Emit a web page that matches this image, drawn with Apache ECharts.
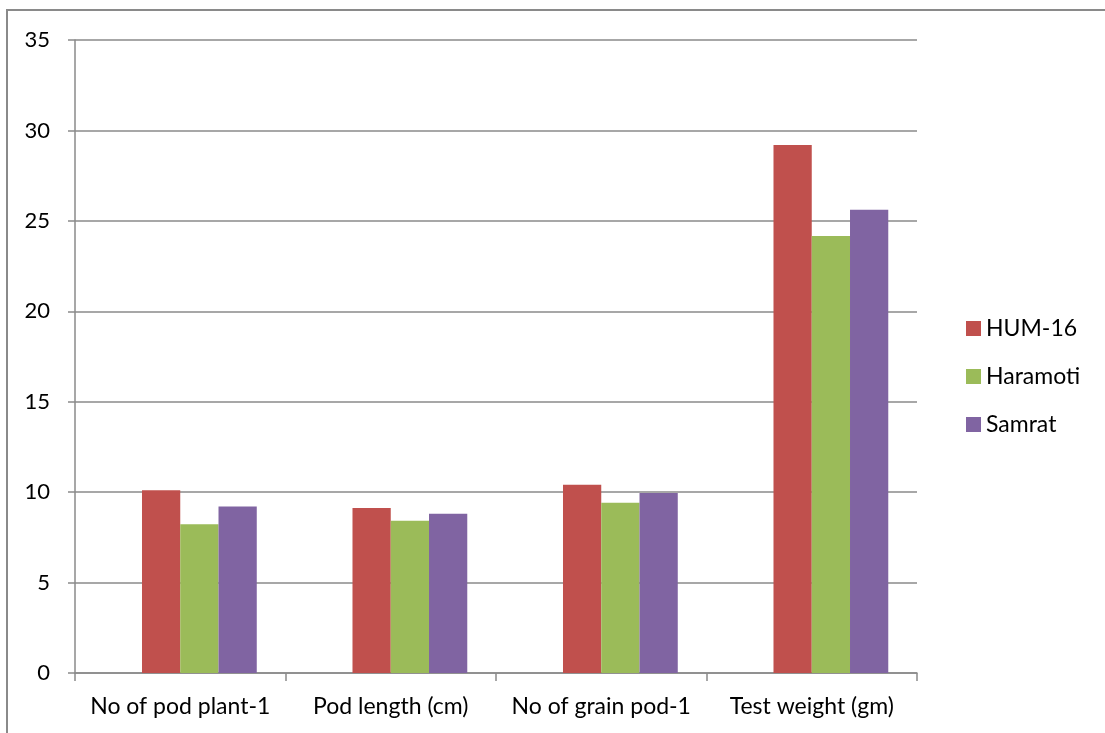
<!DOCTYPE html>
<html>
<head>
<meta charset="utf-8">
<script src="https://cdn.jsdelivr.net/npm/echarts@6/dist/echarts.min.js"></script>
<style>
  html, body { margin: 0; padding: 0; background: #fff; }
  #chart { width: 1105px; height: 733px; }
</style>
</head>
<body>
<div id="chart"></div>
<script>
// Yield attributes of three varieties
const categories = ['No of pod plant-1', 'Pod length (cm)', 'No of grain pod-1', 'Test weight (gm)'];
const hum16    = [10.1, 9.12, 10.41, 29.2];
const haramoti = [8.22, 8.42, 9.42, 24.16];
const samrat   = [9.2, 8.81, 9.95, 25.62];
const yTicks = { min: 0, max: 35, step: 5 };

const FONT = 'Lato, "Liberation Sans", sans-serif';
const AXIS_GREY = '#8a8a8a';

const chart = echarts.init(document.getElementById('chart'), null, { renderer: 'canvas' });

chart.setOption({
  animation: false,
  backgroundColor: '#fff',
  textStyle: { fontFamily: FONT },
  graphic: [{
    type: 'polyline',
    shape: { points: [[7, 740], [7, 10], [1110, 10]] },
    style: { stroke: AXIS_GREY, lineWidth: 2, fill: null },
    silent: true
  }],
  grid: { left: 75, right: 188, top: 40, bottom: 60, containLabel: false },
  legend: {
    orient: 'vertical',
    left: 961,
    top: 312,
    itemWidth: 15,
    itemHeight: 15,
    itemGap: 25,
    icon: 'rect',
    data: ['HUM-16', 'Haramoti', 'Samrat'],
    textStyle: { fontFamily: FONT, fontSize: 23, lineHeight: 23, color: '#000' }
  },
  xAxis: {
    type: 'category',
    data: categories,
    axisLine: { show: true, lineStyle: { color: AXIS_GREY, width: 1.5 } },
    axisTick: { show: true, length: 8, lineStyle: { color: AXIS_GREY, width: 1.5 } },
    axisLabel: { fontFamily: FONT, fontSize: 23, color: '#000', margin: 22, interval: 0 }
  },
  yAxis: {
    type: 'value',
    min: yTicks.min,
    max: yTicks.max,
    interval: yTicks.step,
    axisLine: { show: true, lineStyle: { color: AXIS_GREY, width: 1.5 } },
    axisTick: { show: true, length: 7, lineStyle: { color: AXIS_GREY, width: 1.5 } },
    axisLabel: { fontFamily: FONT, fontSize: 22, color: '#000', margin: 25 },
    splitLine: { show: true, lineStyle: { color: AXIS_GREY, width: 1.5 } }
  },
  series: [
    // empty leading slot in each group (no values)
    { name: 'spacer', type: 'bar', data: [null, null, null, null], barGap: '0%', barCategoryGap: '27.3%', silent: true },
    { name: 'HUM-16', type: 'bar', data: hum16, itemStyle: { color: '#C0504D' }, barGap: '0%', barCategoryGap: '27.3%' },
    { name: 'Haramoti', type: 'bar', data: haramoti, itemStyle: { color: '#9BBB59' }, barGap: '0%', barCategoryGap: '27.3%' },
    { name: 'Samrat', type: 'bar', data: samrat, itemStyle: { color: '#8064A2' }, barGap: '0%', barCategoryGap: '27.3%' }
  ]
});
</script>
</body>
</html>
